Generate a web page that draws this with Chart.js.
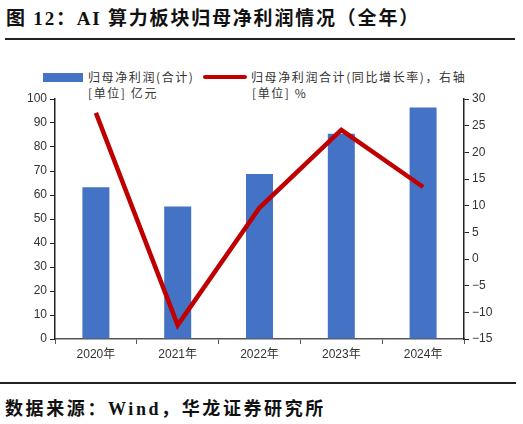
<!DOCTYPE html>
<html><head><meta charset="utf-8">
<script src="https://cdn.jsdelivr.net/npm/chart.js@4"></script>
<style>
body{margin:0;width:523px;height:424px;background:#fff;position:relative;overflow:hidden;font-family:"Noto Sans CJK SC",sans-serif;}
.title{position:absolute;left:6px;top:3px;font-size:19px;font-weight:bold;letter-spacing:1.8px;color:#111;font-family:"Liberation Serif","Noto Sans CJK SC",serif;}
.rule{position:absolute;left:5px;width:510px;height:2px;background:#222;}
.leg{position:absolute;font-size:12px;letter-spacing:1.6px;color:#333;white-space:nowrap;}
.src{position:absolute;left:5px;top:394px;font-size:18px;font-weight:bold;letter-spacing:2.6px;color:#111;font-family:"Liberation Serif","Noto Sans CJK SC",serif;}
canvas{position:absolute;left:0;top:88px;}
</style></head><body>
<div class="title">图 12：AI 算力板块归母净利润情况（全年）</div>
<div class="rule" style="top:38px"></div>
<div style="position:absolute;left:43px;top:73px;width:40px;height:9px;background:#4472C4"></div>
<div class="leg" style="left:88px;top:68px">归母净利润(合计)</div>
<div style="position:absolute;left:203px;top:75px;width:44px;height:4px;background:#C00000;border-radius:2px"></div>
<div class="leg" style="left:251px;top:68px">归母净利润合计(同比增长率)，右轴</div>
<div class="leg" style="left:88px;top:84px">[单位] 亿元</div>
<div class="leg" style="left:252px;top:84px">[单位] %</div>
<canvas id="c" width="523" height="282"></canvas>
<div class="rule" style="top:382px;left:0;width:516px"></div>
<div class="src">数据来源：Wind，华龙证券研究所</div>
<script>
const categories = ["2020年","2021年","2022年","2023年","2024年"];
const profit = [63.2, 55.2, 68.8, 85.5, 96.5];
const growth = [27.4, -12.4, 9.6, 24.2, 13.5];
const leftTicks = [0,10,20,30,40,50,60,70,80,90,100];
const rightTicks = [-15,-10,-5,0,5,10,15,20,25,30];

const tickFont = {family:"Liberation Sans, Arial, sans-serif", size:12};
new Chart(document.getElementById('c'), {
  data: {
    labels: categories,
    datasets: [
      {type:'line', data: growth, yAxisID:'y1', borderColor:'#C00000', borderWidth:4.5, pointRadius:0, tension:0, order:0},
      {type:'bar', data: profit, yAxisID:'y', backgroundColor:'#4472C4', categoryPercentage:1, barPercentage:0.33, order:1}
    ]
  },
  options: {
    responsive:false, animation:false,
    layout:{padding:{top:11,left:0,right:0,bottom:0}},
    plugins:{legend:{display:false}, tooltip:{enabled:false}},
    scales:{
      x:{
        offset:true,
        grid:{display:true, drawOnChartArea:false, offset:true, tickLength:5, color:'#555'},
        border:{color:'#555', width:1.5},
        ticks:{color:'#333', font:{family:"Liberation Sans, Noto Sans CJK SC, sans-serif", size:12}, padding:3},
        afterFit:s=>{s.height=31;}
      },
      y:{
        position:'left', min:0, max:100,
        afterBuildTicks:s=>{s.ticks=leftTicks.map(v=>({value:v}));},
        grid:{display:true, drawOnChartArea:false, tickLength:5, color:'#222'},
        border:{color:'#222', width:1.5},
        ticks:{color:'#333', font:tickFont, padding:3},
        afterFit:s=>{s.width=55;}
      },
      y1:{
        position:'right', min:-15, max:30,
        afterBuildTicks:s=>{s.ticks=rightTicks.map(v=>({value:v}));},
        grid:{display:true, drawOnChartArea:false, tickLength:5, color:'#222'},
        border:{color:'#222', width:1.5},
        ticks:{color:'#333', font:tickFont, padding:3, callback:v=>v<0?'\u2212'+Math.abs(v):String(v)},
        afterFit:s=>{s.width=59;}
      }
    }
  }
});
</script>
</body></html>
